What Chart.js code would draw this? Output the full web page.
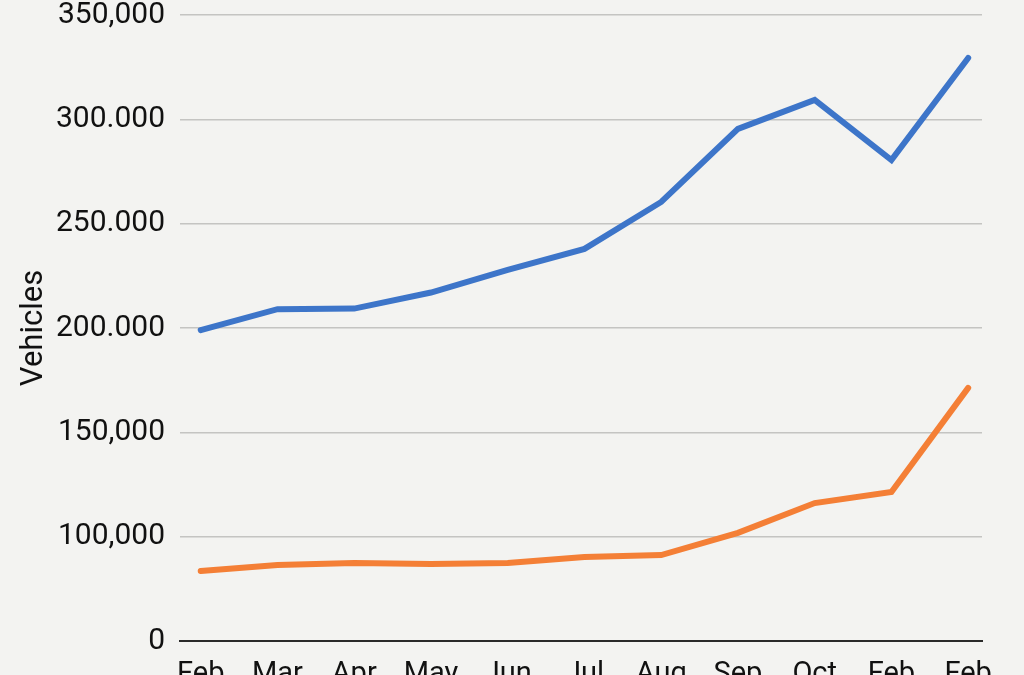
<!DOCTYPE html>
<html>
<head>
<meta charset="utf-8">
<script src="https://cdn.jsdelivr.net/npm/chart.js@4.4.0/dist/chart.umd.min.js"></script>
<style>
  html, body { margin: 0; padding: 0; background: #f3f3f1; overflow: hidden; }
  #wrap { width: 1024px; height: 675px; }
</style>
</head>
<body>
<div id="wrap"><canvas id="grafico"></canvas></div>
<script>
// Dados do gráfico

const meses = ["Feb", "Mar", "Apr", "May", "Jun", "Jul", "Aug", "Sep", "Oct", "Feb", "Feb"];

const serieAzul = [199000, 209000, 209300, 217000, 227800, 237900, 260400, 295400, 309300, 280500, 329400];
const serieLaranja = [83500, 86400, 87400, 86900, 87400, 90300, 91200, 101800, 116100, 121400, 171300];

const valoresEixoY = [50000, 100000, 150000, 200000, 250000, 300000, 350000];
const rotulosEixoY = ["0", "100,000", "150,000", "200.000", "250.000", "300.000", "350,000"];

const fonte = "Roboto";

function pontos(valores) {
  return valores.map((v, i) => ({ x: i, y: v }));
}

const ctx = document.getElementById("grafico");

new Chart(ctx, {
  type: "line",
  data: {
    datasets: [
      {
        label: "Série 1",
        data: pontos(serieAzul),
        borderColor: "#3d75c9",
        borderWidth: 6,
        borderCapStyle: "round",
        pointRadius: 0,
        fill: false,
      },
      {
        label: "Série 2",
        data: pontos(serieLaranja),
        borderColor: "#f47f36",
        borderWidth: 6,
        borderCapStyle: "round",
        pointRadius: 0,
        fill: false,
      },
    ],
  },
  options: {
    responsive: true,
    maintainAspectRatio: false,
    animation: false,
    layout: { padding: { top: 15, right: 42, bottom: 0, left: 0 } },
    plugins: {
      legend: { display: false },
      tooltip: { enabled: false },
    },
    scales: {
      x: {
        type: "linear",
        min: -0.27,
        max: 10.18,
        afterBuildTicks: (scale) => {
          scale.ticks = meses.map((_, i) => ({ value: i }));
        },
        afterFit: (scale) => {
          scale.height = 34;
          scale.paddingLeft = 0;
          scale.paddingRight = 0;
        },
        grid: { display: false },
        border: { color: "#2a2a2a", width: 2 },
        ticks: {
          autoSkip: false,
          maxRotation: 0,
          padding: 8,
          color: "#111",
          font: { family: fonte, size: 29 },
          callback: (value) => meses[value],
        },
      },
      y: {
        min: 50000,
        max: 350000,
        afterBuildTicks: (scale) => {
          scale.ticks = valoresEixoY.map((v) => ({ value: v }));
        },
        afterFit: (scale) => {
          scale.width = 180;
          // deixa o rótulo de cima sair da área do gráfico
          scale.paddingTop = 0;
          scale.paddingBottom = 0;
        },
        border: { display: false },
        grid: { color: "#c4c4c2", lineWidth: 1.5, drawTicks: false },
        ticks: {
          padding: 15,
          color: "#111",
          font: { family: fonte, size: 30 },
          callback: (value) => rotulosEixoY[valoresEixoY.indexOf(value)],
        },
        title: {
          display: true,
          text: "Vehicles",
          color: "#111",
          padding: { top: 16, bottom: 0 },
          font: { family: fonte, size: 31 },
        },
      },
    },
  },
});
</script>
</body>
</html>
